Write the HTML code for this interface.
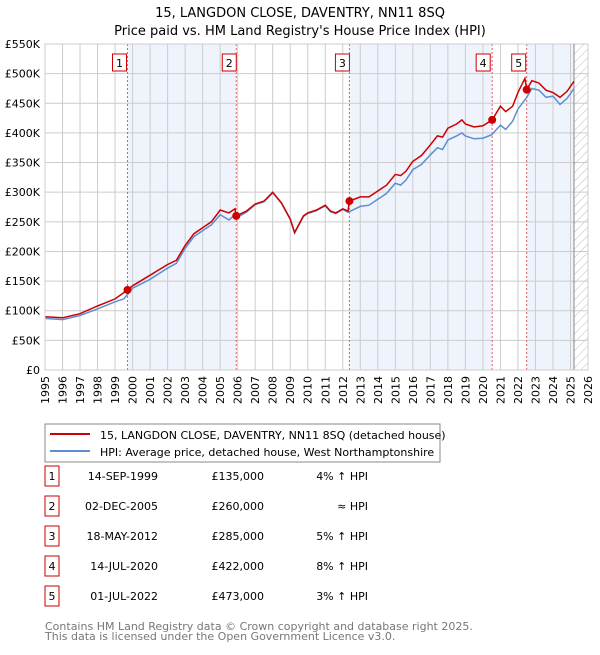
<!DOCTYPE html>
<html><head><meta charset="utf-8"><style>
body{margin:0;background:#fff;font-family:"Liberation Sans","DejaVu Sans",sans-serif;}
svg text{font-family:"DejaVu Sans","Liberation Sans",sans-serif;}
</style></head><body>
<svg id="c" width="600" height="650" xmlns="http://www.w3.org/2000/svg">
<defs><pattern id="hatch" width="6" height="6" patternUnits="userSpaceOnUse" patternTransform="rotate(45)"><line x1="0" y1="0" x2="0" y2="6" stroke="#bbb" stroke-width="1"/></pattern></defs>
<text x="300" y="17" text-anchor="middle" font-size="13" fill="#000">15, LANGDON CLOSE, DAVENTRY, NN11 8SQ</text>
<text x="300" y="35" text-anchor="middle" font-size="13" fill="#000">Price paid vs. HM Land Registry's House Price Index (HPI)</text>
<g id="plot"></g>
<rect x="45" y="424" width="395" height="38" fill="#fff" stroke="#888"/>
<line x1="50" y1="434" x2="90" y2="434" stroke="#cc0000" stroke-width="2"/>
<text x="100" y="439" font-size="11">15, LANGDON CLOSE, DAVENTRY, NN11 8SQ (detached house)</text>
<line x1="50" y1="451" x2="90" y2="451" stroke="#5b8fd0" stroke-width="2"/>
<text x="100" y="456" font-size="11">HPI: Average price, detached house, West Northamptonshire</text>
<g id="table"></g>
<text x="45" y="630" font-size="11" fill="#777">Contains HM Land Registry data © Crown copyright and database right 2025.</text>
<text x="45" y="640" font-size="11" fill="#777">This data is licensed under the Open Government Licence v3.0.</text>
</svg>
<script>
const yTicks=[0,50,100,150,200,250,300,350,400,450,500,550];
const years=[1995,1996,1997,1998,1999,2000,2001,2002,2003,2004,2005,2006,2007,2008,2009,2010,2011,2012,2013,2014,2015,2016,2017,2018,2019,2020,2021,2022,2023,2024,2025,2026];
const redT=[1995,1996,1997,1998,1999,1999.71,2000,2001,2002,2002.5,2003,2003.5,2004,2004.5,2005,2005.5,2005.85,2005.92,2006.5,2007,2007.5,2008,2008.5,2009,2009.25,2009.75,2010,2010.5,2011,2011.3,2011.6,2012,2012.3,2012.38,2013,2013.5,2014,2014.5,2015,2015.3,2015.6,2016,2016.5,2017,2017.4,2017.7,2018,2018.5,2018.8,2019,2019.5,2020,2020.53,2021,2021.3,2021.7,2022,2022.4,2022.5,2022.8,2023.2,2023.6,2024,2024.4,2024.8,2025.2];
const redV=[90,88,95,108,120,135,142,160,178,185,210,230,240,250,270,265,272,260,268,280,285,300,282,255,232,260,265,270,278,268,265,272,268,285,292,292,302,312,330,328,335,352,362,380,395,393,408,415,422,415,410,412,422,445,436,445,468,492,473,488,484,472,468,460,470,487];
const hpiT=[1995,1996,1997,1998,1999,1999.5,2000,2001,2002,2002.5,2003,2003.5,2004,2004.5,2005,2005.5,2005.85,2006,2006.5,2007,2007.5,2008,2008.5,2009,2009.25,2009.75,2010,2010.5,2011,2011.3,2011.6,2012,2012.3,2013,2013.5,2014,2014.5,2015,2015.3,2015.6,2016,2016.5,2017,2017.4,2017.7,2018,2018.5,2018.8,2019,2019.5,2020,2020.5,2021,2021.3,2021.7,2022,2022.5,2022.8,2023.2,2023.6,2024,2024.4,2024.8,2025.2];
const hpiV=[87,85,92,103,115,120,138,153,172,180,205,225,235,245,262,253,262,258,266,279,284,299,281,254,231,259,264,269,277,267,264,271,266,276,278,288,298,315,312,320,338,347,363,375,372,388,395,400,395,390,391,397,413,406,420,440,460,475,472,460,462,448,458,475];
const saleT=[1999.71,2005.92,2012.38,2020.53,2022.5];
const saleV=[135,260,285,422,473];
const saleLabels=["1","2","3","4","5"];
const saleDates=["14-SEP-1999","02-DEC-2005","18-MAY-2012","14-JUL-2020","01-JUL-2022"];
const salePrices=["£135,000","£260,000","£285,000","£422,000","£473,000"];
const saleHpi=["4% ↑ HPI","≈ HPI","5% ↑ HPI","8% ↑ HPI","3% ↑ HPI"];
const endT=2025.2;
const L=45,R=588,T=44,B=370;
const X=t=>L+(t-1995)/(2026-1995)*(R-L);
const Y=v=>B-v/550*(B-T);
const NS="http://www.w3.org/2000/svg";
const g=document.getElementById('plot');
function mk(tag,attrs,parent){const e=document.createElementNS(NS,tag);for(const k in attrs)e.setAttribute(k,attrs[k]);(parent||g).appendChild(e);return e;}
// shaded spans
const spans=[[saleT[0],saleT[1]],[saleT[2],saleT[3]],[saleT[4],endT]];
spans.forEach((s,i)=>{const r=mk('rect',{x:X(s[0]),y:T,width:X(s[1])-X(s[0]),height:B-T,fill:'#eef3fc'});

});
const h=mk('rect',{x:X(endT),y:T,width:R-X(endT),height:B-T,fill:'url(#hatch)'});


// grid
years.forEach(yr=>{const l=mk('line',{x1:X(yr),x2:X(yr),y1:T,y2:B,stroke:'#ccc','stroke-width':1});


const tx=X(yr)+4,ty=B+6;
const t=mk('text',{x:tx,y:ty,'font-size':11,'text-anchor':'end',transform:`rotate(-90 ${tx} ${ty})`});t.textContent=yr;

});
yTicks.forEach(v=>{const l=mk('line',{x1:L,x2:R,y1:Y(v),y2:Y(v),stroke:'#ccc','stroke-width':1});


const t=mk('text',{x:L-5,y:Y(v)+4,'font-size':11,'text-anchor':'end'});t.textContent=v===0?'£0':'£'+v+'K';

});
const ax=mk('line',{x1:X(endT),x2:X(endT),y1:T,y2:B,stroke:'#888','stroke-width':1});


// sale vlines
saleT.forEach((t,i)=>{const l=mk('line',{x1:X(t),x2:X(t),y1:T,y2:B,stroke:'#e06060','stroke-width':1,'stroke-dasharray':'2,2'});

});
// lines
function path(ts,vs){return ts.map((t,i)=>(i?'L':'M')+X(t).toFixed(1)+','+Y(vs[i]).toFixed(1)).join('');}
const hp=mk('path',{d:path(hpiT,hpiV),fill:'none',stroke:'#5b8fd0','stroke-width':1.5});


const rp=mk('path',{d:path(redT,redV),fill:'none',stroke:'#cc0000','stroke-width':1.5});


saleT.forEach((t,i)=>{const c=mk('circle',{cx:X(t),cy:Y(saleV[i]),r:4,fill:'#cc0000'});


const bx=X(t)-7-(i===3||i===0?1:0);
const r=mk('rect',{x:X(t)-16+(i===1||i===2?0:-1),y:54,width:14,height:17,fill:'#fff',stroke:'#cc0000'});
r.setAttribute('x',X(t)-19+ (i==0?4:i==1?5:i==2?5:i==3?3:4));


const tx=mk('text',{x:+r.getAttribute('x')+7,y:67,'font-size':11,'text-anchor':'middle'});tx.textContent=saleLabels[i];

});
mk('rect',{x:L,y:T,width:R-L,height:B-T,fill:'none',stroke:'#ccc'});
// table
const tb=document.getElementById('table');
saleLabels.forEach((s,i)=>{const y=483+i*30;
const r=mk('rect',{x:45,y:y-17,width:14,height:20,fill:'#fff',stroke:'#cc0000'},tb);


const a=mk('text',{x:52,y:y-3,'font-size':11,'text-anchor':'middle'},tb);a.textContent=s;


const d=mk('text',{x:158,y:y-3,'font-size':11,'text-anchor':'end'},tb);d.textContent=saleDates[i];


const p=mk('text',{x:264,y:y-3,'font-size':11,'text-anchor':'end'},tb);p.textContent=salePrices[i];


const q=mk('text',{x:368,y:y-3,'font-size':11,'text-anchor':'end'},tb);q.textContent=saleHpi[i];

});
</script>
</body></html>
